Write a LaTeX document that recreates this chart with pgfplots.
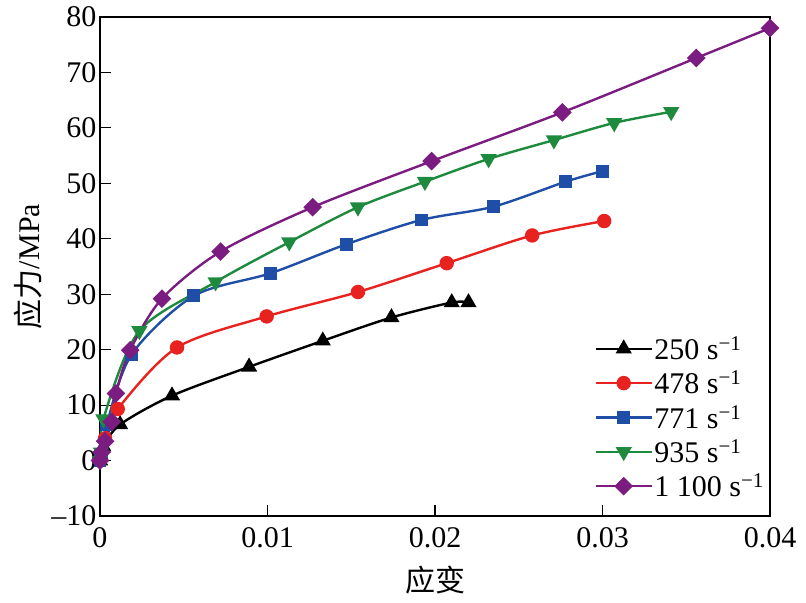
\documentclass[border=0pt]{standalone}
\usepackage{pgfplots}
\pgfplotsset{compat=1.18}
\usepackage{fontspec}
\setmainfont{Liberation Serif}
\newfontfamily\cjk{Noto Sans CJK SC}
\definecolor{cRed}{RGB}{232,35,31}
\definecolor{cBlue}{RGB}{31,78,166}
\definecolor{cGreen}{RGB}{30,138,62}
\definecolor{cPurple}{RGB}{122,28,128}
\begin{document}
\begin{tikzpicture}
\begin{axis}[
  scale only axis,
  width=670bp, height=499bp,
  xmin=0, xmax=0.04, ymin=-10, ymax=80,
  xtick={0,0.01,0.02,0.03,0.04},
  xticklabels={0,0.01,0.02,0.03,0.04},
  ytick={-10,0,10,20,30,40,50,60,70,80},
  yticklabels={\textendash10,0,10,20,30,40,50,60,70,80},
  tick align=inside,
  xtick pos=left, ytick pos=left,
  major tick length=11bp,
  axis line style={line width=1.1bp},
  every tick/.style={line width=1.1bp, black},
  ticklabel style={font=\fontsize{30bp}{34bp}\selectfont},
  xticklabel style={yshift=-8bp},
  scaled x ticks=false,
  xlabel={\cjk 应变},
  ylabel={{\cjk 应力}/MPa},
  label style={font=\fontsize{30bp}{34bp}\selectfont},
  xlabel style={at={(axis description cs:0.5,-0.128)}, anchor=center},
  ylabel style={at={(axis description cs:-0.108,0.5)}, anchor=center},
  legend cell align=left,
  legend style={at={(0.995,0.03)}, anchor=south east, draw=none, fill=none,
    font=\fontsize{30bp}{34bp}\selectfont, row sep=7bp, inner sep=1bp,
    nodes={inner sep=1.5bp}},
  legend image code/.code={\draw[mark repeat=2,mark phase=2] plot coordinates {(0bp,0bp) (28bp,0bp) (56bp,0bp)};},
]
\addplot[black, line width=2.4bp, smooth, mark=triangle*, mark size=7bp, mark options={solid}] coordinates {
(0,0) (0.0002,2.5) (0.0012,6.5) (0.0043,11.7) (0.0089,16.9) (0.0133,21.6) (0.0174,25.8) (0.0210,28.5) (0.0220,28.5)};
\addlegendentry{250 s\textsuperscript{−1}}
\addplot[cRed, line width=2.4bp, smooth, mark=*, mark size=6bp] coordinates {
(0,0) (0.0003,4.0) (0.00106,9.3) (0.0046,20.4) (0.00995,26.0) (0.0154,30.4) (0.0207,35.6) (0.0258,40.6) (0.0301,43.2)};
\addlegendentry{478 s\textsuperscript{−1}}
\addplot[cBlue, line width=2.4bp, smooth, mark=square*, mark size=5.2bp] coordinates {
(0,0) (0.0001,1.0) (0.0004,6.5) (0.0019,19.2) (0.0056,29.7) (0.0102,33.8) (0.0147,39.0) (0.0192,43.4) (0.0235,45.8) (0.0278,50.3) (0.0300,52.2)};
\addlegendentry{771 s\textsuperscript{−1}}
\addplot[cGreen, line width=2.4bp, smooth, mark=triangle*, mark size=7bp, mark options={rotate=180}] coordinates {
(0,0) (0.00005,1.5) (0.0002,7.5) (0.00235,23.4) (0.0069,32.2) (0.0113,39.4) (0.0154,45.7) (0.0194,50.3) (0.0232,54.4) (0.0271,57.8) (0.0307,60.9) (0.0341,62.9)};
\addlegendentry{935 s\textsuperscript{−1}}
\addplot[cPurple, line width=2.4bp, smooth, mark=square*, mark size=5.4bp, mark options={rotate=45}] coordinates {
(0,0) (0.0001,1.5) (0.0003,3.5) (0.0007,7.0) (0.00095,12.1) (0.0018,19.9) (0.0037,29.2) (0.0072,37.7) (0.0127,45.7) (0.0198,54.0) (0.0276,62.8) (0.0356,72.6) (0.0400,78.0)};
\addlegendentry{1 100 s\textsuperscript{−1}}
\end{axis}
\pgfresetboundingbox
\path[use as bounding box] (-100bp,-87bp) rectangle (706bp,516bp);
\end{tikzpicture}
\end{document}
